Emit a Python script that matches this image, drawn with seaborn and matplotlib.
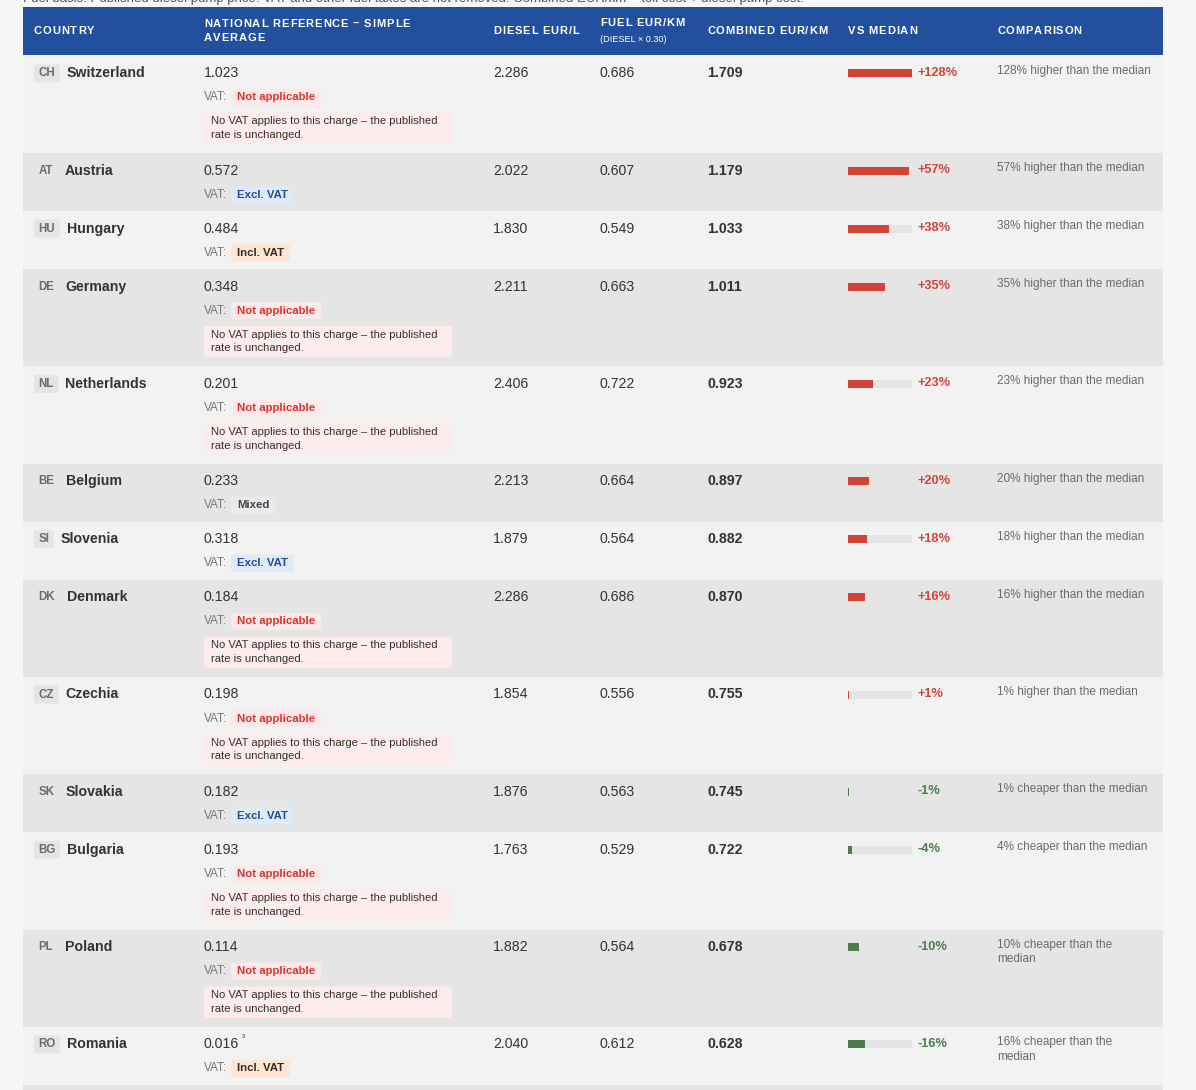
import matplotlib
matplotlib.use("Agg")
import matplotlib.pyplot as plt
from matplotlib.patches import Rectangle, FancyBboxPatch
import seaborn as sns

sns.set_theme(style="white")
plt.rcParams['font.family'] = ['Liberation Sans', 'DejaVu Sans']

# ---------------- data ----------------
countries = ["Switzerland", "Austria", "Hungary", "Germany", "Netherlands", "Belgium",
             "Slovenia", "Denmark", "Czechia", "Slovakia", "Bulgaria", "Poland", "Romania"]
codes = ["CH", "AT", "HU", "DE", "NL", "BE", "SI", "DK", "CZ", "SK", "BG", "PL", "RO"]
national_ref = [1.023, 0.572, 0.484, 0.348, 0.201, 0.233, 0.318, 0.184, 0.198, 0.182, 0.193, 0.114, 0.016]
diesel_eur_l = [2.286, 2.022, 1.830, 2.211, 2.406, 2.213, 1.879, 2.286, 1.854, 1.876, 1.763, 1.882, 2.040]
fuel_eur_km = [0.686, 0.607, 0.549, 0.663, 0.722, 0.664, 0.564, 0.686, 0.556, 0.563, 0.529, 0.564, 0.612]
combined_eur_km = [1.709, 1.179, 1.033, 1.011, 0.923, 0.897, 0.882, 0.870, 0.755, 0.745, 0.722, 0.678, 0.628]
vs_median_pct = [128, 57, 38, 35, 23, 20, 18, 16, 1, -1, -4, -10, -16]
vat_status = ["Not applicable", "Excl. VAT", "Incl. VAT", "Not applicable", "Not applicable", "Mixed",
              "Excl. VAT", "Not applicable", "Not applicable", "Excl. VAT", "Not applicable",
              "Not applicable", "Incl. VAT"]
footnotes = {"RO": "³"}
headers = ["COUNTRY", "NATIONAL REFERENCE – SIMPLE\nAVERAGE", "DIESEL EUR/L", "FUEL EUR/KM",
           "COMBINED EUR/KM", "VS MEDIAN", "COMPARISON"]
fuel_sub = "(DIESEL × 0.30)"
note_text = "No VAT applies to this charge – the published\nrate is unchanged."
top_text = ("Fuel basis: Published diesel pump price. VAT and other fuel taxes are not removed. "
            "Combined EUR/km = toll cost + diesel pump cost.")

# ---------------- style ----------------
W, H = 1196, 1090
PAGE = "#f6f6f6"
HEADER_BG = "#22509e"
ROW_LIGHT = "#f2f2f2"
ROW_DARK = "#e5e5e5"
TXT = "#333333"
GREY = "#6b6b6b"
RED = "#d2443a"
GREEN = "#4b7d4b"
TRACK = "#e4e4e4"
vat_styles = {
    "Not applicable": ("#fde9e9", "#d8352b"),
    "Excl. VAT": ("#deeaf6", "#1f4f9a"),
    "Incl. VAT": ("#fbe7d3", "#3a2c20"),
    "Mixed": ("#ebebef", "#444444"),
}

X0, X1 = 23, 1163
COLX = [34, 204, 493, 600, 707, 848, 997]
HEAD_TOP, HEAD_BOT = 7, 55
TALL, SHORT = 97.3, 58.0
TRACK_W = 64.0
CAP = 60.0

fig = plt.figure(figsize=(W / 100, H / 100), dpi=100, facecolor=PAGE)
ax = fig.add_axes([0, 0, 1, 1])
ax.set_xlim(0, W)
ax.set_ylim(H, 0)
ax.axis("off")
ax.set_facecolor(PAGE)
fig.canvas.draw()
renderer = fig.canvas.get_renderer()

def text_w(s, size, weight="normal"):
    t = ax.text(0, 0, s, fontsize=size, fontweight=weight)
    bb = t.get_window_extent(renderer)
    t.remove()
    return bb.width

def spaced(x, y, s, size, color, weight="bold", spacing=0.9):
    for ch in s:
        ax.text(x, y, ch, fontsize=size, color=color, fontweight=weight, va="center", ha="left")
        x += text_w(ch, size, weight) + spacing if ch != " " else text_w("a a", size, weight) - text_w("aa", size, weight) + spacing

# clipped intro line at very top (cut off in the reference as well)
ax.text(X0, -1, top_text, fontsize=9.5, color="#555555", va="center", ha="left")

# header
ax.add_patch(Rectangle((X0, HEAD_TOP), X1 - X0, HEAD_BOT - HEAD_TOP, color=HEADER_BG, lw=0))
hy = (HEAD_TOP + HEAD_BOT) / 2 + 0.5
spaced(COLX[0], hy, headers[0], 8, "white")
l1, l2 = headers[1].split("\n")
spaced(COLX[1], hy - 7.5, l1, 8, "white")
spaced(COLX[1], hy + 6.5, l2, 8, "white")
spaced(COLX[2], hy, headers[2], 8, "white")
spaced(COLX[3], hy - 9, headers[3], 8, "white")
ax.text(COLX[3], hy + 8, fuel_sub, fontsize=6.6, color="white", va="center", ha="left")
spaced(COLX[4], hy, headers[4], 8, "white")
spaced(COLX[5], hy, headers[5], 8, "white")
spaced(COLX[6], hy, headers[6], 8, "white")

# rows
y = HEAD_BOT + 0.8
bar_y, bar_w, bar_c = [], [], []
for i, name in enumerate(countries):
    tall = vat_status[i] == "Not applicable"
    h = TALL if tall else SHORT
    bg = ROW_LIGHT if i % 2 == 0 else ROW_DARK
    ax.add_patch(Rectangle((X0, y), X1 - X0, h, color=bg, lw=0))
    ty = y + 17.5

    # country code badge + name
    cw = text_w(codes[i], 8.3, "bold")
    bw = cw + 9
    ax.add_patch(FancyBboxPatch((COLX[0], y + 8.5), bw, 18, boxstyle="round,pad=0,rounding_size=2",
                                color=ROW_DARK, lw=0))
    ax.text(COLX[0] + bw / 2, ty, codes[i], fontsize=8.3, color=GREY, fontweight="bold",
            va="center", ha="center")
    ax.text(COLX[0] + bw + 7, ty, name, fontsize=10.2, color=TXT, fontweight="bold",
            va="center", ha="left")

    # national reference
    ref_s = f"{national_ref[i]:.3f}"
    ax.text(COLX[1], ty, ref_s, fontsize=10.2, color=TXT, va="center", ha="left")
    if codes[i] in footnotes:
        ax.text(COLX[1] + text_w(ref_s, 10.2) + 3, ty - 6, footnotes[codes[i]], fontsize=6.5,
                color=TXT, va="center", ha="left")
    vy = y + 41.5
    ax.text(COLX[1], vy, "VAT:", fontsize=8.5, color="#777777", va="center", ha="left")
    vbg, vfg = vat_styles[vat_status[i]]
    vx = COLX[1] + text_w("VAT:", 8.5) + 4
    vw = text_w(vat_status[i], 8.2, "bold") + 12
    ax.add_patch(FancyBboxPatch((vx, vy - 8.5), vw, 17, boxstyle="round,pad=0,rounding_size=2",
                                color=vbg, lw=0))
    ax.text(vx + 6, vy, vat_status[i], fontsize=8.2, color=vfg, fontweight="bold",
            va="center", ha="left")
    if tall:
        ax.add_patch(FancyBboxPatch((COLX[1], y + 57), 248, 31, boxstyle="round,pad=0,rounding_size=2",
                                    color="#fdeceb", lw=0))
        ax.text(COLX[1] + 7, y + 72.5, note_text, fontsize=8.1, color=TXT, va="center", ha="left",
                linespacing=1.45)

    # numeric columns
    ax.text(COLX[2], ty, f"{diesel_eur_l[i]:.3f}", fontsize=10.2, color=TXT, va="center", ha="left")
    ax.text(COLX[3], ty, f"{fuel_eur_km[i]:.3f}", fontsize=10.2, color=TXT, va="center", ha="left")
    ax.text(COLX[4], ty, f"{combined_eur_km[i]:.3f}", fontsize=10.2, color=TXT, fontweight="bold",
            va="center", ha="left")

    # vs median bar (track + value bar)
    v = vs_median_pct[i]
    col = RED if v > 0 else GREEN
    ax.add_patch(Rectangle((COLX[5], ty - 4), TRACK_W, 8, color=TRACK, lw=0, zorder=2))
    bar_y.append(ty)
    bar_w.append(max(min(abs(v) / CAP, 1.0) * TRACK_W, 1.0))
    bar_c.append(col)
    ax.text(COLX[5] + TRACK_W + 6, ty - 0.5, f"{v:+d}%", fontsize=9.2, color=col, fontweight="bold",
            va="center", ha="left")

    # comparison text
    word = "higher" if v > 0 else "cheaper"
    comp = f"{abs(v)}% {word} than the median"
    if text_w(comp, 8.5) > 156:
        parts = comp.rsplit(" ", 1)
        comp = parts[0] + "\n" + parts[1]
    ax.text(COLX[6], y + 9, comp, fontsize=8.5, color=GREY, va="top", ha="left", linespacing=1.3)

    y += h

ax.barh(bar_y, bar_w, left=COLX[5], height=8, color=bar_c, lw=0, zorder=3)

# start of next row at the bottom edge
ax.add_patch(Rectangle((X0, y), X1 - X0, H - y + 5, color=ROW_DARK, lw=0))

fig.savefig("out.png", dpi=100, facecolor=PAGE)
